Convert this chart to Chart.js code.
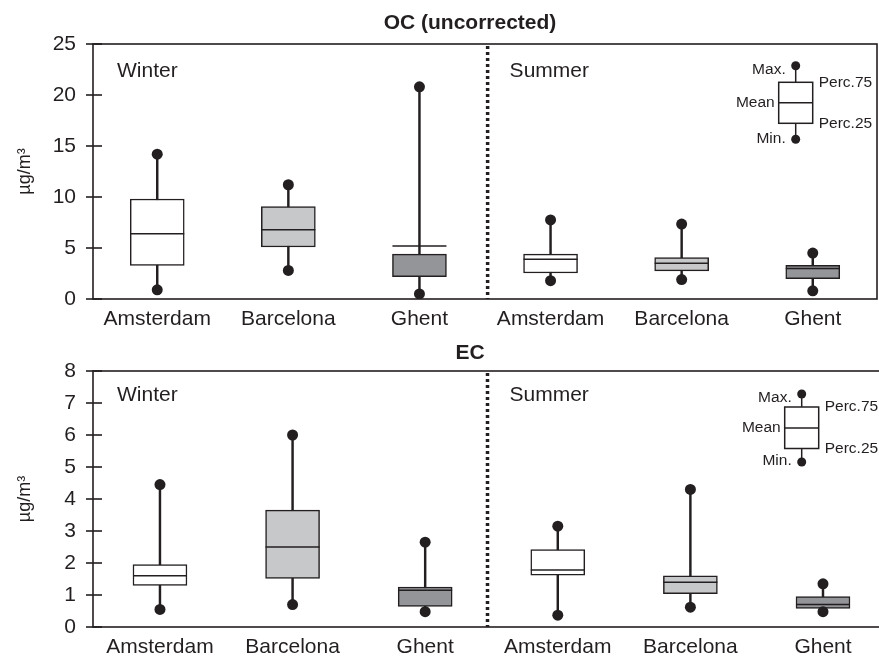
<!DOCTYPE html>
<html>
<head>
<meta charset="utf-8">
<script src="https://cdn.jsdelivr.net/npm/chart.js@4.4.1/dist/chart.umd.min.js"></script>
<style>
  html, body { margin: 0; padding: 0; background: #fff; overflow: hidden; width: 879px; height: 657px; }
  canvas { position: absolute; left: 0; }
  #ocChart { top: 0; }
  #ecChart { top: 330px; }
</style>
</head>
<body>
<canvas id="ocChart" width="879" height="330"></canvas>
<canvas id="ecChart" width="890" height="327"></canvas>
<script>
// -- Data --
const cities = ['Amsterdam', 'Barcelona', 'Ghent', 'Amsterdam', 'Barcelona', 'Ghent'];
const seasons = ['Winter', 'Summer'];
const unitLabel = 'µg/m³';

// OC (uncorrected)
const ocMin  = [0.9, 2.8, 0.5, 1.8, 1.9, 0.8];
const ocQ1   = [3.3, 5.1, 2.2, 2.55, 2.75, 2.0];
const ocMean = [6.4, 6.8, 5.2, 3.9, 3.5, 3.0];
const ocQ3   = [9.8, 9.05, 4.4, 4.4, 4.05, 3.3];
const ocMax  = [14.2, 11.2, 20.8, 7.75, 7.35, 4.5];
const ocTicks = [0, 5, 10, 15, 20, 25];

// EC
const ecMin  = [0.55, 0.7, 0.48, 0.37, 0.62, 0.48];
const ecQ1   = [1.3, 1.52, 0.64, 1.62, 1.04, 0.58];
const ecMean = [1.6, 2.5, 1.15, 1.78, 1.4, 0.7];
const ecQ3   = [1.95, 3.65, 1.25, 2.42, 1.6, 0.95];
const ecMax  = [4.45, 6.0, 2.65, 3.15, 4.3, 1.35];
const ecTicks = [0, 1, 2, 3, 4, 5, 6, 7, 8];

const legendLabels = { max: 'Max.', q3: 'Perc.75', mean: 'Mean', q1: 'Perc.25', min: 'Min.' };

// -- Styles --
const INK = '#231f20';
const FONT = '"Liberation Sans", Arial, Helvetica, sans-serif';
const boxFills = ['#ffffff', '#c7c8ca', '#939598', '#ffffff', '#c7c8ca', '#939598'];

// draws frame, crossing ticks, divider, titles and the key
const panelDecor = {
  id: 'panelDecor',
  afterDraw(chart, args, opts) {
    const { ctx, chartArea: a, scales: { x, y } } = chart;
    ctx.save();
    ctx.strokeStyle = INK;
    ctx.fillStyle = INK;

    // frame
    ctx.lineWidth = 1.6;
    ctx.strokeRect(a.left, a.top, a.right - a.left, a.bottom - a.top);

    // y ticks crossing the axis
    y.ticks.forEach(t => {
      const py = y.getPixelForValue(t.value);
      ctx.beginPath();
      ctx.moveTo(a.left - 7, py);
      ctx.lineTo(a.left + 9, py);
      ctx.stroke();
    });

    // season divider
    const dx = x.getPixelForValue(opts.dividerAt);
    ctx.lineWidth = 3.5;
    ctx.setLineDash([3, 3]);
    ctx.beginPath();
    ctx.moveTo(dx, a.top + 2);
    ctx.lineTo(dx, a.bottom);
    ctx.stroke();
    ctx.setLineDash([]);

    // panel title
    ctx.font = 'bold 21px ' + FONT;
    ctx.textAlign = 'center';
    ctx.textBaseline = 'middle';
    ctx.fillText(opts.title, opts.titleX, opts.titleY);

    // season labels
    ctx.font = '21px ' + FONT;
    ctx.textAlign = 'left';
    ctx.fillText(seasons[0], a.left + 24, a.top + opts.seasonDy);
    ctx.fillText(seasons[1], dx + 22, a.top + opts.seasonDy);

    // key
    const k = opts.key;
    const cx = a.left + k.cx, t = a.top;
    const hw = 17;
    ctx.lineWidth = 1.5;
    ctx.beginPath();
    ctx.moveTo(cx, t + k.max); ctx.lineTo(cx, t + k.min);
    ctx.stroke();
    ctx.fillStyle = '#fff';
    ctx.fillRect(cx - hw, t + k.q3, hw * 2, k.q1 - k.q3);
    ctx.strokeRect(cx - hw, t + k.q3, hw * 2, k.q1 - k.q3);
    ctx.beginPath();
    ctx.moveTo(cx - hw, t + k.mean); ctx.lineTo(cx + hw, t + k.mean);
    ctx.stroke();
    ctx.fillStyle = INK;
    [k.max, k.min].forEach(v => {
      ctx.beginPath();
      ctx.arc(cx, t + v, 4.5, 0, Math.PI * 2);
      ctx.fill();
    });
    ctx.font = '15.5px ' + FONT;
    ctx.textAlign = 'right';
    ctx.fillText(legendLabels.max, cx - 10, t + k.max + 4);
    ctx.fillText(legendLabels.mean, cx - hw - 4, t + k.mean);
    ctx.fillText(legendLabels.min, cx - 10, t + k.min - 1);
    ctx.textAlign = 'left';
    ctx.fillText(legendLabels.q3, cx + hw + 6, t + k.q3);
    ctx.fillText(legendLabels.q1, cx + hw + 6, t + k.q1);
    ctx.restore();
  }
};

function makePanel(canvasId, p) {
  const idx = cities.map((_, i) => i);
  return new Chart(document.getElementById(canvasId), {
    type: 'bar',
    data: {
      datasets: [
        {
          type: 'scatter', label: 'Min/Max',
          data: idx.flatMap(i => [{ x: i, y: p.min[i] }, { x: i, y: p.max[i] }]),
          pointRadius: 5.5, pointBackgroundColor: INK, pointBorderWidth: 0, order: 0
        },
        {
          type: 'scatter', label: 'Mean',
          data: idx.map(i => ({ x: i, y: p.mean[i] })),
          pointStyle: 'line', pointRadius: 27, pointBorderColor: INK, pointBorderWidth: 1.5, order: 1
        },
        {
          label: 'Perc.25-75',
          data: idx.map(i => ({ x: i, y: [p.q1[i], p.q3[i]] })),
          backgroundColor: boxFills, borderColor: INK, borderWidth: 1.5, borderSkipped: false,
          barThickness: 54, grouped: false, order: 2
        },
        {
          label: 'Min-Max',
          data: idx.map(i => ({ x: i, y: [p.min[i], p.max[i]] })),
          backgroundColor: INK, barThickness: 1.8, grouped: false, order: 3
        }
      ]
    },
    options: {
      responsive: false,
      animation: false,
      events: [],
      layout: { autoPadding: false, padding: { top: p.padTop, right: p.padRight, left: 0, bottom: 0 } },
      plugins: {
        legend: { display: false },
        tooltip: { enabled: false },
        panelDecor: p.decor
      },
      scales: {
        x: {
          type: 'linear', min: p.xMin, max: p.xMax, offset: false,
          afterBuildTicks: s => { s.ticks = idx.map(i => ({ value: i })); },
          afterFit: s => { s.height = p.xAxisHeight; s.paddingLeft = 0; s.paddingRight = 0; },
          ticks: {
            callback: v => cities[v], autoSkip: false, maxRotation: 0, padding: 8,
            color: INK, font: { family: FONT, size: 21 }
          },
          grid: { display: false, drawTicks: false },
          border: { display: false }
        },
        y: {
          type: 'linear', min: 0, max: p.ticks[p.ticks.length - 1],
          afterBuildTicks: s => { s.ticks = p.ticks.map(v => ({ value: v })); },
          afterFit: s => { s.width = 93; s.paddingTop = 0; s.paddingBottom = 0; },
          ticks: { padding: 17, color: INK, font: { family: FONT, size: 21 } },
          grid: { display: false, drawTicks: false },
          border: { display: false },
          title: {
            display: true, text: unitLabel, color: INK,
            font: { family: FONT, size: 18 }, padding: { top: 14, bottom: 0 }
          }
        }
      }
    },
    plugins: [panelDecor]
  });
}

makePanel('ocChart', {
  min: ocMin, q1: ocQ1, mean: ocMean, q3: ocQ3, max: ocMax, ticks: ocTicks,
  xMin: -0.49, xMax: 5.49, padTop: 44, padRight: 2, xAxisHeight: 31,
  decor: {
    title: 'OC (uncorrected)', titleX: 470, titleY: 23, dividerAt: 2.52, seasonDy: 27,
    key: { cx: 702.7, max: 21.7, q3: 38.3, mean: 58.7, q1: 79.3, min: 95.3 }
  }
});

makePanel('ecChart', {
  min: ecMin, q1: ecQ1, mean: ecMean, q3: ecQ3, max: ecMax, ticks: ecTicks,
  xMin: -0.505, xMax: 5.445, padTop: 41, padRight: 8, xAxisHeight: 30,
  decor: {
    title: 'EC', titleX: 470, titleY: 23, dividerAt: 2.47, seasonDy: 24.5,
    key: { cx: 708.7, max: 23, q3: 36, mean: 57, q1: 77.5, min: 91 }
  }
});
</script>
</body>
</html>
